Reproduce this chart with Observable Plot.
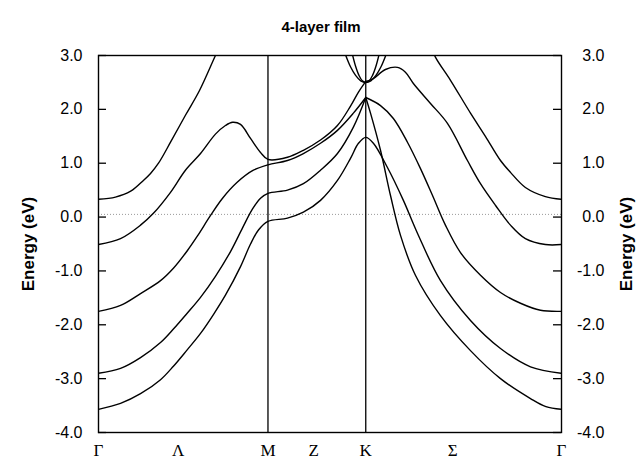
<!DOCTYPE html>
<html><head><meta charset="utf-8">
<script src="https://cdn.jsdelivr.net/npm/d3@7"></script>
<script src="https://cdn.jsdelivr.net/npm/@observablehq/plot@0.6"></script>
<style>body{margin:0;background:#fff}</style>
</head><body><div id="chart"></div>
<script>
const title = "4-layer film";
const yLabel = "Energy (eV)";
const kLabels = ["Γ","Λ","M","Z","K","Σ","Γ"];
const kLabelPos = [0, 0.47, 1, 1.27, 1.577, 2.09, 2.732];
const symLines = [1, 1.577];
const yTicks = [-4, -3, -2, -1, 0, 1, 2, 3];
const fermi = [0.05];

// band A (top at Γ), leaves top of frame
const bandA1_k = [0, 0.10, 0.19, 0.265, 0.307, 0.354, 0.425, 0.513, 0.596, 0.690, 0.72];
const bandA1_E = [0.33, 0.37, 0.48, 0.68, 0.81, 1.00, 1.39, 1.89, 2.35, 3.00, 3.2];
const bandA2_k = [1.959, 1.988, 2.077, 2.195, 2.283, 2.372, 2.431, 2.519, 2.637, 2.732];
const bandA2_E = [3.2, 2.97, 2.54, 1.93, 1.50, 1.05, 0.83, 0.55, 0.38, 0.33];
// band B
const bandB1_k = [0, 0.13, 0.248, 0.324, 0.425, 0.513, 0.602, 0.690, 0.749, 0.791, 0.838, 0.897, 0.956, 1.0, 1.115, 1.209, 1.310, 1.410, 1.487, 1.534, 1.577];
const bandB1_E = [-0.51, -0.40, -0.15, 0.07, 0.46, 0.87, 1.18, 1.54, 1.70, 1.76, 1.72, 1.46, 1.20, 1.07, 1.11, 1.24, 1.43, 1.70, 2.06, 2.32, 2.52];
const bandB2_k = [1.577, 1.617, 1.693, 1.764, 1.811, 1.858, 1.959, 2.059, 2.177, 2.254, 2.342, 2.431, 2.519, 2.637, 2.732];
const bandB2_E = [2.52, 2.56, 2.74, 2.78, 2.69, 2.48, 2.11, 1.74, 1.05, 0.62, 0.22, -0.15, -0.40, -0.51, -0.51];
// band C
const bandC1_k = [0, 0.13, 0.248, 0.366, 0.442, 0.525, 0.584, 0.661, 0.732, 0.820, 0.914, 1.0, 1.115, 1.209, 1.310, 1.410, 1.504, 1.577];
const bandC1_E = [-1.75, -1.64, -1.42, -1.18, -0.95, -0.62, -0.35, 0.03, 0.35, 0.65, 0.87, 0.97, 1.05, 1.18, 1.37, 1.61, 1.93, 2.22];
const bandC2_k = [1.577, 1.664, 1.740, 1.823, 1.900, 1.971, 2.047, 2.136, 2.254, 2.372, 2.490, 2.608, 2.732];
const bandC2_E = [2.22, 2.07, 1.83, 1.39, 0.90, 0.40, -0.15, -0.66, -1.08, -1.40, -1.60, -1.73, -1.75];
// band D
const bandD1_k = [0, 0.13, 0.248, 0.366, 0.442, 0.522, 0.602, 0.690, 0.779, 0.850, 0.909, 0.956, 1.0, 1.115, 1.209, 1.310, 1.410, 1.504, 1.577];
const bandD1_E = [-2.90, -2.81, -2.61, -2.33, -2.08, -1.79, -1.49, -1.10, -0.64, -0.20, 0.15, 0.35, 0.44, 0.50, 0.62, 0.87, 1.18, 1.67, 2.22];
const bandD2_k = [1.577, 1.605, 1.664, 1.723, 1.782, 1.870, 2.018, 2.195, 2.372, 2.549, 2.640, 2.732];
const bandD2_E = [2.22, 1.93, 1.24, 0.40, -0.34, -1.08, -1.83, -2.48, -3.00, -3.37, -3.52, -3.57];
// band E (lowest at Γ left, peak at K)
const bandE_k = [0, 0.13, 0.248, 0.366, 0.442, 0.522, 0.602, 0.680, 0.749, 0.838, 0.897, 0.944, 1.0, 1.115, 1.209, 1.310, 1.410, 1.487, 1.534, 1.577, 1.622, 1.705, 1.799, 1.882, 2.018, 2.195, 2.372, 2.549, 2.732];
const bandE_E = [-3.57, -3.46, -3.28, -3.02, -2.77, -2.47, -2.16, -1.80, -1.45, -0.92, -0.50, -0.24, -0.08, -0.02, 0.09, 0.31, 0.68, 1.09, 1.37, 1.48, 1.37, 0.92, 0.31, -0.30, -1.18, -1.92, -2.44, -2.78, -2.90];
// conduction parabolas at K
const bandP1_k = [1.447, 1.487, 1.517, 1.547, 1.577, 1.607, 1.637, 1.667, 1.707];
const bandP1_E = [3.1, 2.79, 2.63, 2.53, 2.50, 2.53, 2.63, 2.79, 3.1];
const bandP2_k = [1.492, 1.517, 1.537, 1.557, 1.577, 1.597, 1.617, 1.637, 1.662];
const bandP2_E = [3.1, 2.80, 2.63, 2.53, 2.50, 2.53, 2.63, 2.80, 3.1];

const bands = [
  ["A1", bandA1_k, bandA1_E], ["A2", bandA2_k, bandA2_E],
  ["B1", bandB1_k, bandB1_E], ["B2", bandB2_k, bandB2_E],
  ["C1", bandC1_k, bandC1_E], ["C2", bandC2_k, bandC2_E],
  ["D1", bandD1_k, bandD1_E], ["D2", bandD2_k, bandD2_E],
  ["E", bandE_k, bandE_E],
  ["P1", bandP1_k, bandP1_E], ["P2", bandP2_k, bandP2_E]
];
const rows = bands.flatMap(([name, ks, es]) => ks.map((k, i) => ({band: name, k, E: es[i]})));

const fmt = d => d.toFixed(1);
const chart = Plot.plot({
  width: 642, height: 463,
  marginLeft: 98, marginRight: 81, marginTop: 55, marginBottom: 31,
  x: {domain: [0, 2.732], axis: null},
  y: {domain: [-4, 3]},
  style: {fontFamily: "'Liberation Sans', Arial, sans-serif", background: "white", color: "black"},
  marks: [
    Plot.ruleY(fermi, {stroke: "#999", strokeDasharray: "1,2", strokeWidth: 1}),
    Plot.ruleX(symLines, {stroke: "black", strokeWidth: 1.3}),
    Plot.line(rows, {x: "k", y: "E", z: "band", curve: "catmull-rom", stroke: "black", strokeWidth: 1.4, clip: true}),
    Plot.frame({stroke: "black", strokeWidth: 1.4}),
    Plot.tickY(yTicks, {y: d => d, insetRight: 455, stroke: "black", strokeWidth: 1.3}),
    Plot.tickY(yTicks, {y: d => d, insetLeft: 455, stroke: "black", strokeWidth: 1.3}),
    Plot.axisY(yTicks, {anchor: "left", tickSize: 0, tickPadding: 16, tickFormat: fmt, fontSize: 16, label: null}),
    Plot.axisY(yTicks, {anchor: "right", tickSize: 0, tickPadding: 43, textAnchor: "end", tickFormat: fmt, fontSize: 16, label: null}),
    Plot.text(kLabels, {x: (d, i) => kLabelPos[i], text: d => d, frameAnchor: "bottom", lineAnchor: "top", dy: 11, fontFamily: "'Liberation Serif', serif", fontSize: 17}),
    Plot.text([yLabel], {text: d => d, frameAnchor: "left", textAnchor: "middle", lineAnchor: "middle", dx: -70, rotate: -90, fontWeight: "bold", fontSize: 17}),
    Plot.text([yLabel], {text: d => d, frameAnchor: "right", textAnchor: "middle", lineAnchor: "middle", dx: 65, rotate: -90, fontWeight: "bold", fontSize: 17}),
    Plot.text([title], {text: d => d, frameAnchor: "top", lineAnchor: "middle", dy: -28, dx: -9, fontWeight: "bold", fontSize: 15})
  ]
});
document.getElementById("chart").appendChild(chart);
</script>
</body></html>
